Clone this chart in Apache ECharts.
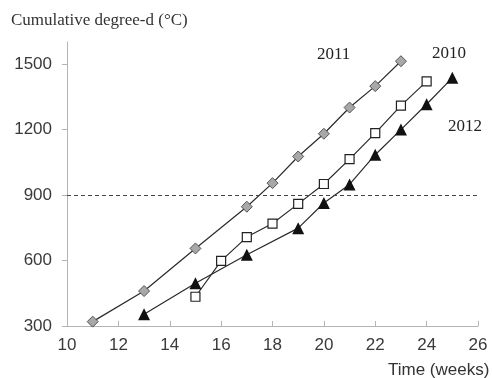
<!DOCTYPE html>
<html><head><meta charset="utf-8">
<script src="https://cdn.jsdelivr.net/npm/echarts@6/dist/echarts.min.js"></script>
<style>html,body{margin:0;padding:0;background:#fff}#c{width:492px;height:378px}</style>
</head><body><div id="c"></div>
<script>
const weeks2011 = [11, 13, 15, 17, 18, 19, 20, 21, 22, 23];
const values2011 = [320, 460, 655, 846, 954, 1076, 1180, 1300, 1398, 1512];
const weeks2010 = [15, 16, 17, 18, 19, 20, 21, 22, 23, 24];
const values2010 = [434, 598, 707, 769, 859, 950, 1064, 1183, 1309, 1420];
const weeks2012 = [13, 15, 17, 19, 20, 21, 22, 23, 24, 25];
const values2012 = [354, 496, 626, 748, 863, 948, 1084, 1199, 1315, 1436];
const yTicks = [300, 600, 900, 1200, 1500];
const xTicks = [10, 12, 14, 16, 18, 20, 22, 24, 26];
const threshold = 900;

const pair = (xs, ys) => xs.map((x, i) => [x, ys[i]]);
const chart = echarts.init(document.getElementById('c'), null, {renderer: 'canvas'});
const axisColor = '#b4b4b4';
const labelStyle = {color: '#3a3a3a', fontFamily: 'Liberation Sans, Arial, sans-serif', fontSize: 17, formatter: v => String(v)};
chart.setOption({
  animation: false,
  backgroundColor: '#fff',
  grid: {left: 67, right: 14, top: 42, bottom: 52, containLabel: false},
  xAxis: {
    type: 'value', min: 10, max: 26, interval: 2,
    axisLine: {show: true, lineStyle: {color: axisColor, width: 1}},
    axisTick: {show: true, inside: true, length: 5, lineStyle: {color: axisColor}},
    axisLabel: Object.assign({margin: 11, customValues: xTicks}, labelStyle),
    splitLine: {show: false}
  },
  yAxis: {
    type: 'value', min: 300, max: 1600, interval: 300,
    axisLine: {show: true, lineStyle: {color: axisColor, width: 1}},
    axisTick: {show: true, inside: false, length: 5, customValues: yTicks, lineStyle: {color: axisColor}},
    axisLabel: Object.assign({margin: 15, customValues: yTicks}, labelStyle),
    splitLine: {show: false}
  },
  series: [
    {
      name: '2011', type: 'line', data: pair(weeks2011, values2011),
      symbol: 'diamond', symbolSize: 11,
      lineStyle: {color: '#2a2a2a', width: 1.2},
      itemStyle: {color: '#a8a8a8', borderColor: '#555', borderWidth: 1},
      markLine: {
        silent: true, symbol: 'none', label: {show: false},
        lineStyle: {color: '#444', type: [4, 3], width: 1},
        data: [{yAxis: threshold}]
      }
    },
    {
      name: '2010', type: 'line', data: pair(weeks2010, values2010),
      symbol: 'rect', symbolSize: 9,
      lineStyle: {color: '#2a2a2a', width: 1.2},
      itemStyle: {color: '#fff', borderColor: '#222', borderWidth: 1.2}
    },
    {
      name: '2012', type: 'line', data: pair(weeks2012, values2012),
      symbol: 'triangle', symbolSize: 12,
      lineStyle: {color: '#2a2a2a', width: 1.2},
      itemStyle: {color: '#111', borderColor: '#111', borderWidth: 0}
    }
  ],
  graphic: [
    {type: 'text', left: 11, top: 12, style: {text: 'Cumulative degree-d (°C)', font: '17px "Liberation Serif", "Times New Roman", serif', fill: '#333'}},
    {type: 'text', left: 388, top: 362, style: {text: 'Time (weeks)', font: '17px "Liberation Sans", Arial, sans-serif', fill: '#333'}},
    {type: 'text', left: 317, top: 46, style: {text: '2011', font: '17px "Liberation Serif", "Times New Roman", serif', fill: '#222'}},
    {type: 'text', left: 432, top: 45, style: {text: '2010', font: '17px "Liberation Serif", "Times New Roman", serif', fill: '#222'}},
    {type: 'text', left: 448, top: 118, style: {text: '2012', font: '17px "Liberation Serif", "Times New Roman", serif', fill: '#222'}}
  ]
});
</script></body></html>
